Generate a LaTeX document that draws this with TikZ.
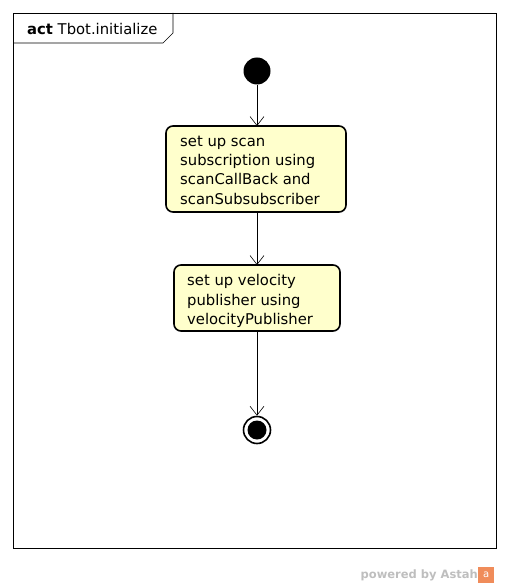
\documentclass[tikz,border=0pt]{standalone}
\usepackage{fontspec}
\setmainfont{DejaVu Sans}
\usetikzlibrary{arrows.meta}
\definecolor{actfill}{RGB}{255,255,204}
\definecolor{astahgray}{RGB}{190,190,190}
\definecolor{astahorange}{RGB}{240,140,90}
\tikzset{
  actbox/.style={line width=1.6pt, fill=actfill, rounded corners=7pt},
  acttext/.style={anchor=north west, align=left, inner sep=0pt, font=\fontsize{14.8}{19.4}\selectfont},
  flow/.style={draw=black, line width=0.6pt, -{Straight Barb[length=9pt,width=14pt,line width=0.6pt]}},
}
\begin{document}
\begin{tikzpicture}[x=1pt,y=-1pt]
\useasboundingbox (0,0) rectangle (509,588);
% frame
\draw[line width=0.6pt] (13,13) rectangle (496,548);
\draw[line width=0.6pt] (13,43) -- (163,43) -- (173,33) -- (173,13);
\node[anchor=west, inner sep=0pt, font=\fontsize{14.8}{17}\selectfont] (title) at (27,29) {\textbf{act} Tbot.initialize};
% initial
\node[circle, fill=black, minimum size=27pt, inner sep=0pt] (init) at (257,71) {};
% actions
\draw[actbox] (166,126) rectangle (346,212);
\node[acttext] (a1txt) at (180,135.5) {set up scan\\subscription using\\scanCallBack and\\scanSubsubscriber};
\coordinate (a1top) at (257,126);
\coordinate (a1bot) at (257,212);
\draw[actbox] (174,265) rectangle (340,331);
\node[acttext] (a2txt) at (187,274.5) {set up velocity\\publisher using\\velocityPublisher};
\coordinate (a2top) at (257,265);
\coordinate (a2bot) at (257,331);
% final
\node[circle, draw=black, line width=1.6pt, fill=white, minimum size=27pt, inner sep=0pt] (final) at (257,430) {};
\node[circle, fill=black, minimum size=19pt, inner sep=0pt] (finalin) at (257,430) {};
% flows
\draw[flow] (init) -- (a1top);
\draw[flow] (a1bot) -- (a2top);
\draw[flow] (a2bot) -- (final);
% watermark
\node[anchor=east, inner sep=0pt, text=astahgray, font=\fontsize{11.5}{14}\selectfont\bfseries] (wm) at (478,575) {powered by Astah};
\node[anchor=west, fill=astahorange, text=white, minimum width=16pt, minimum height=16pt, inner sep=0pt, font=\fontsize{10}{12}\selectfont] (logo) at (478,575) {a};
\end{tikzpicture}
\end{document}
